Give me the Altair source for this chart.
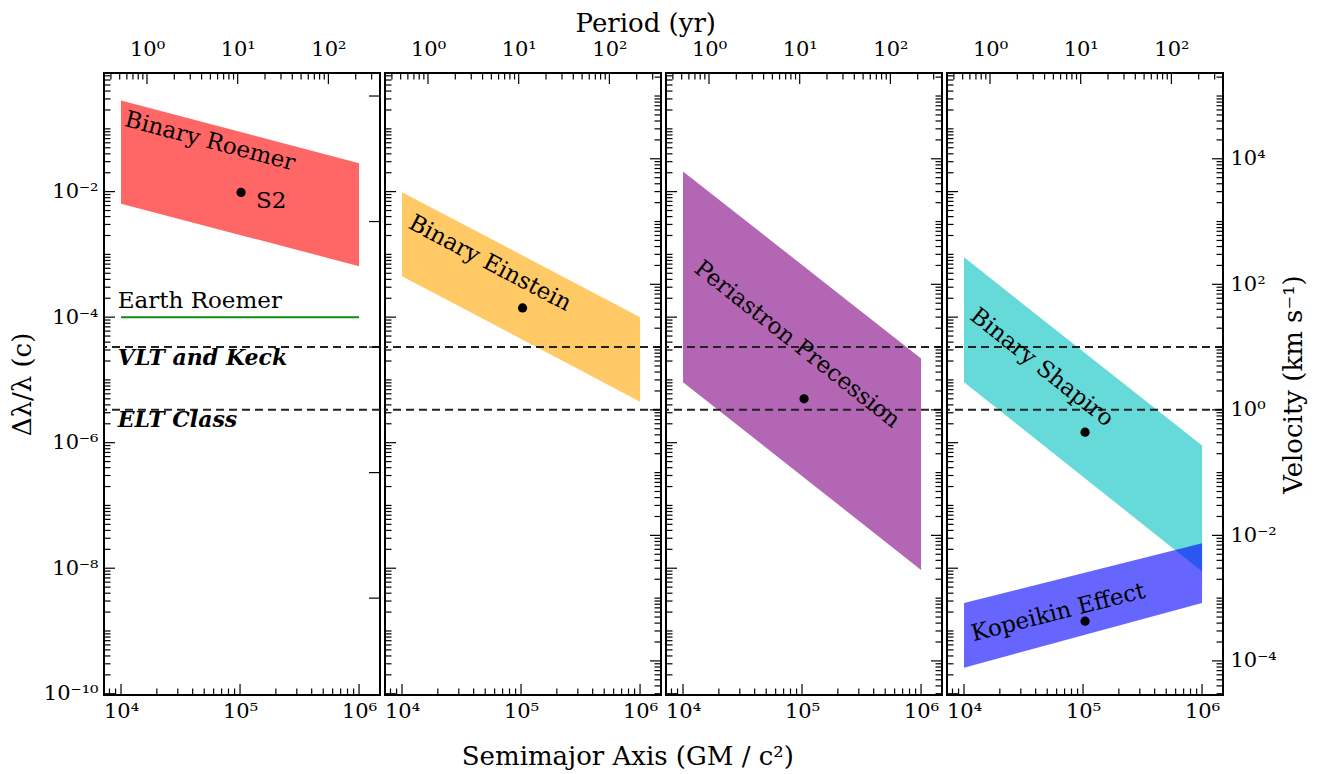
import altair as alt
import pandas as pd

FONT = "DejaVu Serif"
C_KMS = 299792.458

# ---- axis ranges ----
A_MIN, A_MAX = 10 ** 3.857, 10 ** 6.176
Y_MIN, Y_MAX = 10 ** -10.02, 10 ** -0.11
V_MIN, V_MAX = Y_MIN * C_KMS, Y_MAX * C_KMS
P_MIN, P_MAX = 10 ** -0.474, 10 ** 2.569
W, H = 276, 622

# ---- bands (parallelograms in log-log) ----
band_names = ["Binary Roemer", "Binary Einstein", "Periastron Precession",
              "Binary Shapiro", "Kopeikin Effect"]
band_panel = [0, 1, 2, 3, 3]
band_a_left = [1e4, 1e4, 1e4, 1e4, 1e4]
band_a_right = [1e6, 1e6, 1e6, 1e6, 1e6]
band_upper_left = [0.284, 9.8e-3, 2.1e-2, 9.0e-4, 2.8e-9]
band_upper_right = [0.0284, 1.0e-4, 2.2e-5, 9.0e-7, 2.5e-8]
band_lower_left = [6.4e-3, 4.5e-4, 9.2e-6, 9.2e-6, 2.6e-10]
band_lower_right = [6.5e-4, 4.5e-6, 9.4e-9, 8.9e-9, 2.8e-9]
band_colors = ["#ff0000", "#ffa500", "#800080", "#00bfbf", "#0000ff"]

# ---- dots ----
dot_panel = [0, 1, 2, 3, 3]
dot_a = [1.02e5, 1.03e5, 1.04e5, 1.04e5, 1.04e5]
dot_y = [9.7e-3, 1.4e-4, 5.0e-6, 1.47e-6, 1.43e-9]

# ---- Earth Roemer line ----
earth_a = [1e4, 1e6]
earth_y = 1e-4

# ---- instrument limits (km/s -> c) ----
limit_names = ["VLT and Keck", "ELT Class"]
limit_kms = [10.0, 1.0]

# ---- annotations ----
ann_text = ["Binary Roemer", "Binary Einstein", "Periastron Precession",
            "Binary Shapiro", "Kopeikin Effect"]
ann_panel = [0, 1, 2, 3, 3]
ann_a = [5.6e4, 5.48e4, 9.1e4, 4.5e4, 6.2e4]
ann_y = [0.063, 7.2e-4, 3.7e-5, 1.58e-5, 1.97e-9]
ann_angle = [14.8, 27.8, 38.3, 38.4, 345.8]

left_text = ["S2", "Earth Roemer"]
left_a = [1.36e5, 9.4e3]
left_y = [7e-3, 1.78e-4]

bold_text = ["VLT and Keck", "ELT Class"]
bold_a = [9.4e3, 9.4e3]
bold_y = [2.2e-5, 2.26e-6]

# ---- tick values ----
a_major = [1e4, 1e5, 1e6]
y_major = [1e-10, 1e-8, 1e-6, 1e-4, 1e-2]
v_major = [1e-4, 1e-2, 1e0, 1e2, 1e4]
v_major_first = [1e-3, 1e-1, 1e1, 1e3, 1e5]
p_major = [1, 10, 100]

a_exps = [4, 5, 6]
y_exps = [-10, -8, -6, -4, -2]
v_exps = [-4, -2, 0, 2, 4]
p_exps = [0, 1, 2]


def minors(lo, hi, majors, n0, n1, ks):
    out = []
    for n in range(n0, n1):
        for k in ks:
            v = k * 10.0 ** n
            if lo <= v <= hi and all(abs(v / m - 1) > 1e-6 for m in majors):
                out.append(v)
    return out


a_minor = minors(A_MIN, A_MAX, a_major, 3, 7, range(2, 10))
y_minor = minors(Y_MIN, Y_MAX, y_major, -11, 1, range(1, 10))
v_minor = minors(V_MIN, V_MAX, v_major, -5, 6, range(1, 10))
p_minor = minors(P_MIN, P_MAX, p_major, -1, 3, range(2, 10))

SUP = {'-': '⁻', '0': '⁰', '1': '¹', '2': '²', '3': '³', '4': '⁴',
       '5': '⁵', '6': '⁶', '7': '⁷', '8': '⁸', '9': '⁹'}


def sup(n):
    return ''.join(SUP[c] for c in str(n))


def label_expr(exps):
    expr = "''"
    for e in exps:
        expr = f"round(log(datum.value)/LN10) == {e} ? '10{sup(e)}' : ({expr})"
    return expr


xs = alt.Scale(type='log', domain=[A_MIN, A_MAX], nice=False)
ys = alt.Scale(type='log', domain=[Y_MIN, Y_MAX], nice=False)
ps = alt.Scale(type='log', domain=[P_MIN, P_MAX], nice=False)
vs = alt.Scale(type='log', domain=[V_MIN, V_MAX], nice=False)

LBL = dict(labelFont=FONT, labelFontSize=21, labelColor='black',
           ticks=False, domain=False, grid=False, labelFlush=False,
           labelOverlap=False)

x_axis = alt.Axis(values=a_major, labelExpr=label_expr(a_exps), title=None,
                  orient='bottom', labelPadding=5, **LBL)
p_axis = alt.Axis(values=p_major, labelExpr=label_expr(p_exps), title=None,
                  orient='top', labelPadding=14, **LBL)
y_axis_first = alt.Axis(values=y_major, labelExpr=label_expr(y_exps),
                        title='Δλ/λ (c)', titleFont=FONT, titleFontSize=26,
                        titleFontWeight='normal', titleColor='black',
                        titlePadding=8, orient='left', labelPadding=6, **LBL)
v_axis_last = alt.Axis(values=v_major, labelExpr=label_expr(v_exps),
                       title='Velocity (km s⁻¹)', titleFont=FONT,
                       titleFontSize=26, titleFontWeight='normal',
                       titleColor='black', titleAngle=270, titlePadding=30,
                       orient='right', labelPadding=7, **LBL)

MAJ, MIN = 11, 6.5
TICK = dict(color='black', strokeWidth=1.2)
FRAME = alt.ViewBackground(stroke='black', strokeWidth=2, fill='white')


def panel(i):
    y_axis = y_axis_first if i == 0 else None

    # bands
    rows = []
    for j in range(len(band_names)):
        if band_panel[j] == i:
            rows.append(dict(name=band_names[j], a=band_a_left[j],
                             hi=band_upper_left[j], lo=band_lower_left[j]))
            rows.append(dict(name=band_names[j], a=band_a_right[j],
                             hi=band_upper_right[j], lo=band_lower_right[j]))
    bands = alt.Chart(pd.DataFrame(rows)).mark_area(
        fillOpacity=0.6, strokeWidth=0).encode(
        x=alt.X('a:Q', scale=xs, axis=x_axis),
        y=alt.Y('hi:Q', scale=ys, axis=y_axis),
        y2='lo:Q',
        color=alt.Color('name:N', scale=alt.Scale(domain=band_names,
                                                  range=band_colors),
                        legend=None),
    )
    layers = [bands]

    # instrument limit lines
    lim = pd.DataFrame({'name': limit_names,
                        'v': [k / C_KMS for k in limit_kms]})
    layers.append(alt.Chart(lim).mark_rule(
        strokeDash=[8, 5], color='#222222', strokeWidth=2).encode(
        y=alt.Y('v:Q', scale=ys, axis=y_axis)))

    if i == 0:
        er = pd.DataFrame({'a1': [earth_a[0]], 'a2': [earth_a[1]],
                           'v': [earth_y]})
        layers.append(alt.Chart(er).mark_rule(
            color='#118811', strokeWidth=2).encode(
            x=alt.X('a1:Q', scale=xs, axis=x_axis), x2='a2:Q',
            y=alt.Y('v:Q', scale=ys, axis=y_axis)))
        lt = pd.DataFrame({'t': left_text, 'a': left_a, 'v': left_y})
        layers.append(alt.Chart(lt).mark_text(
            font=FONT, fontSize=23, align='left', baseline='middle',
            color='black').encode(
            x=alt.X('a:Q', scale=xs, axis=x_axis),
            y=alt.Y('v:Q', scale=ys, axis=y_axis), text='t:N'))
        bt = pd.DataFrame({'t': bold_text, 'a': bold_a, 'v': bold_y})
        layers.append(alt.Chart(bt).mark_text(
            font=FONT, fontSize=22, align='left', baseline='middle',
            fontWeight='bold', fontStyle='italic', color='black').encode(
            x=alt.X('a:Q', scale=xs, axis=x_axis),
            y=alt.Y('v:Q', scale=ys, axis=y_axis), text='t:N'))

    # dots
    dots = pd.DataFrame({'a': [dot_a[j] for j in range(5) if dot_panel[j] == i],
                         'v': [dot_y[j] for j in range(5) if dot_panel[j] == i]})
    layers.append(alt.Chart(dots).mark_circle(
        size=85, color='black', opacity=1).encode(
        x=alt.X('a:Q', scale=xs, axis=x_axis),
        y=alt.Y('v:Q', scale=ys, axis=y_axis)))

    # rotated band labels
    an = pd.DataFrame({'t': [ann_text[j] for j in range(5) if ann_panel[j] == i],
                       'a': [ann_a[j] for j in range(5) if ann_panel[j] == i],
                       'v': [ann_y[j] for j in range(5) if ann_panel[j] == i],
                       'ang': [ann_angle[j] for j in range(5) if ann_panel[j] == i]})
    layers.append(alt.Chart(an).mark_text(
        font=FONT, fontSize=23, align='center', baseline='middle',
        color='black').encode(
        x=alt.X('a:Q', scale=xs, axis=x_axis),
        y=alt.Y('v:Q', scale=ys, axis=y_axis), text='t:N',
        angle=alt.Angle('ang:Q', scale=None)))

    # ticks: bottom (a) and left (dl/l)
    for vals, ln in ((a_major, MAJ), (a_minor, MIN)):
        layers.append(alt.Chart(pd.DataFrame({'t': vals})).mark_rule(
            **TICK).encode(
            x=alt.X('t:Q', scale=xs, axis=x_axis),
            y=alt.value(H), y2=alt.value(H - ln)))
    for vals, ln in ((y_major, MAJ), (y_minor, MIN)):
        layers.append(alt.Chart(pd.DataFrame({'t': vals})).mark_rule(
            **TICK).encode(
            y=alt.Y('t:Q', scale=ys, axis=y_axis),
            x=alt.value(0), x2=alt.value(ln)))
    main = alt.layer(*layers)

    # top period ticks
    pl = []
    for vals, ln in ((p_major, MAJ), (p_minor, MIN)):
        pl.append(alt.Chart(pd.DataFrame({'t': vals})).mark_rule(
            **TICK).encode(
            x=alt.X('t:Q', scale=ps, axis=p_axis),
            y=alt.value(0), y2=alt.value(ln)))
    per = alt.layer(*pl)

    # right velocity ticks
    v_axis = v_axis_last if i == 3 else None
    if i == 0:
        vsets = ((v_major_first, MAJ),)
    else:
        vsets = ((v_major, MAJ), (v_minor, MIN))
    vl = []
    for vals, ln in vsets:
        vl.append(alt.Chart(pd.DataFrame({'t': vals})).mark_rule(
            **TICK).encode(
            y=alt.Y('t:Q', scale=vs, axis=v_axis),
            x=alt.value(W - ln), x2=alt.value(W)))
    vel = alt.layer(*vl)

    return alt.layer(main, per, vel).resolve_scale(
        x='independent', y='independent').properties(
        width=W, height=H, view=FRAME)


row = alt.hconcat(*[panel(i) for i in range(4)], spacing=5, bounds='flush'
                  ).properties(title=alt.TitleParams(
                      'Period (yr)', font=FONT, fontSize=26,
                      fontWeight='normal', color='black', anchor='middle',
                      orient='top', offset=0, dx=-12))

chart = alt.vconcat(row).properties(
    title=alt.TitleParams('Semimajor Axis (GM / c²)', font=FONT, fontSize=26,
                          fontWeight='normal', color='black', anchor='middle',
                          orient='bottom', offset=22, dx=-30),
    padding={'left': 0, 'top': 3, 'right': 6, 'bottom': 4},
).configure_view(stroke='black', strokeWidth=2).configure(
    background='white')

chart.save("out.html", embed_options={"renderer": "svg", "actions": False})
